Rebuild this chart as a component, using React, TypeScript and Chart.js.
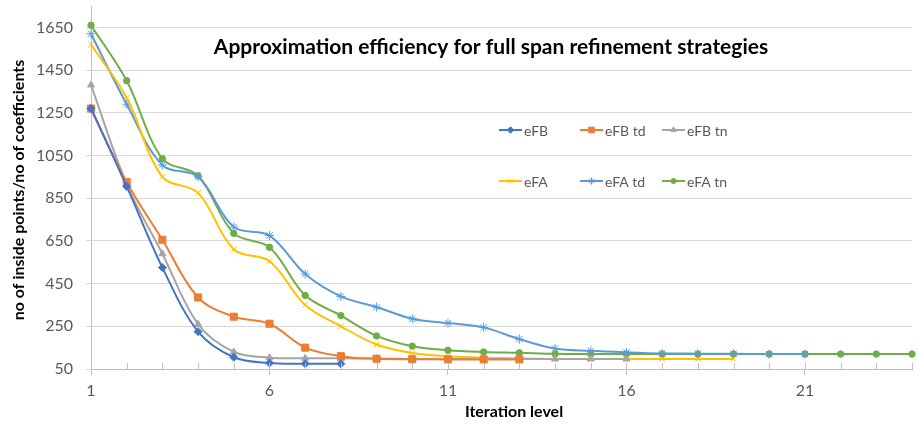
import React, { useEffect, useRef } from "react";
import { Chart, registerables, PointElement } from "chart.js";

Chart.register(...registerables);

const iterations = ["1","2","3","4","5","6","7","8","9","10","11","12","13","14","15","16","17","18","19","20","21","22","23","24"];
const yTicks = [50, 250, 450, 650, 850, 1050, 1250, 1450, 1650];

const eFB = [1270, 905, 525, 225, 105, 78, 75, 75];
const eFBtd = [1270, 925, 655, 385, 295, 262, 150, 110, 98, 96, 95, 95, 95];
const eFBtn = [1380, 915, 590, 260, 130, 103, 100, 100, 99, 97, 97, 97, 97, 97, 97, 97];
const eFA = [1570, 1320, 950, 875, 610, 555, 350, 250, 165, 125, 110, 103, 100, 97, 97, 97, 97, 97, 97];
const eFAtd = [1620, 1290, 1005, 950, 715, 675, 495, 390, 340, 285, 265, 245, 190, 146, 135, 128, 123, 122, 121, 120, 120];
const eFAtn = [1660, 1400, 1035, 955, 685, 620, 395, 300, 205, 157, 138, 130, 126, 121, 120, 120, 120, 120, 120, 120, 120, 120, 120, 120];

const TITLE = "Approximation efficiency for full span refinement strategies";
const X_TITLE = "Iteration level";
const Y_TITLE = "no of inside points/no of coefficients";
const FONT = "Lato, 'Open Sans', sans-serif";

type S = { label: string; data: number[]; color: string; style: string; r: number };
const series: S[] = [
  { label: "eFB", data: eFB, color: "#4472C4", style: "rectRot", r: 4 },
  { label: "eFB td", data: eFBtd, color: "#ED7D31", style: "rect", r: 5 },
  { label: "eFB tn", data: eFBtn, color: "#A5A5A5", style: "triangle", r: 4 },
  { label: "eFA", data: eFA, color: "#FFC000", style: "crossRot", r: 4 },
  { label: "eFA td", data: eFAtd, color: "#5B9BD5", style: "star", r: 4.5 },
  { label: "eFA tn", data: eFAtn, color: "#70AD47", style: "circle", r: 3.2 },
];

const overlayPlugin = {
  id: "overlay",
  afterDraw(chart: any) {
    const ctx = chart.ctx;
    const area = chart.chartArea;
    const xs = chart.scales.x;
    // tick marks inside the plot
    ctx.save();
    ctx.strokeStyle = "#bfbfbf";
    ctx.lineWidth = 1;
    iterations.forEach((_, i) => {
      const x = Math.round(xs.getPixelForValue(i)) + 0.5;
      ctx.beginPath();
      ctx.moveTo(x, area.bottom - 6);
      ctx.lineTo(x, area.bottom);
      ctx.stroke();
    });
    ctx.restore();

    // title
    ctx.save();
    ctx.font = `bold 21px ${FONT}`;
    ctx.fillStyle = "#000000";
    ctx.textAlign = "center";
    ctx.textBaseline = "middle";
    ctx.fillText(TITLE, area.left + 400, area.top + 41);
    ctx.restore();

    // x axis title
    ctx.save();
    ctx.font = `bold 16px ${FONT}`;
    ctx.fillStyle = "#000000";
    ctx.textAlign = "center";
    ctx.textBaseline = "middle";
    ctx.fillText(X_TITLE, area.left + 423, area.bottom + 43);
    ctx.restore();

    // y axis title
    ctx.save();
    ctx.font = `bold 16px ${FONT}`;
    ctx.fillStyle = "#000000";
    ctx.textAlign = "center";
    ctx.textBaseline = "middle";
    ctx.translate(19, 190);
    ctx.rotate(-Math.PI / 2);
    ctx.fillText(Y_TITLE, 0, 0);
    ctx.restore();

    // legend
    const cols = [408, 489, 571];
    const rows = [124, 175];
    ctx.save();
    series.forEach((s, i) => {
      const x = area.left + cols[i % 3];
      const y = area.top + rows[Math.floor(i / 3)];
      ctx.strokeStyle = s.color;
      ctx.lineWidth = 2;
      ctx.beginPath();
      ctx.moveTo(x, y);
      ctx.lineTo(x + 23, y);
      ctx.stroke();
      const p: any = new PointElement({} as any);
      p.x = x + 11.5;
      p.y = y;
      p.options = {
        pointStyle: s.style,
        radius: s.r * 0.8,
        rotation: 0,
        borderWidth: 1,
        borderColor: s.color,
        backgroundColor: s.color,
      };
      p.draw(ctx, area);
      ctx.font = `14px ${FONT}`;
      ctx.fillStyle = "#595959";
      ctx.textAlign = "left";
      ctx.textBaseline = "middle";
      ctx.fillText(s.label, x + 25, y + 1);
    });
    ctx.restore();
  },
};

export default function App() {
  const ref = useRef<HTMLCanvasElement | null>(null);
  useEffect(() => {
    if (!ref.current) return;
    const chart = new Chart(ref.current, {
      type: "line",
      data: {
        labels: iterations,
        datasets: series.map((s) => ({
          label: s.label,
          data: s.data,
          borderColor: s.color,
          backgroundColor: s.color,
          borderWidth: 2,
          tension: 0.35,
          pointStyle: s.style as any,
          pointRadius: s.r,
          pointBorderWidth: 1,
          pointBorderColor: s.color,
          pointBackgroundColor: s.color,
          fill: false,
        })),
      },
      options: {
        responsive: false,
        animation: false,
        devicePixelRatio: 1,
        layout: { padding: { top: 4, right: 5, left: 0, bottom: 0 } },
        plugins: {
          legend: { display: false },
          tooltip: { enabled: false },
          title: { display: false },
        },
        scales: {
          x: {
            type: "category",
            offset: false,
            border: { display: true, color: "#bfbfbf", width: 1 },
            grid: {
              display: true,
              drawOnChartArea: false,
              drawTicks: true,
              tickLength: 6,
              color: (c: any) => (c.index % 5 === 0 ? "#bfbfbf" : "rgba(0,0,0,0)"),
            },
            ticks: {
              autoSkip: false,
              maxRotation: 0,
              padding: 6,
              color: "#595959",
              font: { family: FONT, size: 16 },
              callback: (_v: any, i: number) => (i % 5 === 0 ? iterations[i] : ""),
            },
            title: { display: false },
            afterFit: (scale: any) => {
              scale.height = 55;
              scale.paddingLeft = 0;
              scale.paddingRight = 0;
            },
          },
          y: {
            type: "linear",
            min: 50,
            max: 1750,
            border: { display: true, color: "#bfbfbf", width: 1 },
            grid: { color: "#d9d9d9", tickLength: 5, drawTicks: true },
            afterBuildTicks: (scale: any) => {
              scale.ticks = yTicks.map((v) => ({ value: v }));
            },
            ticks: {
              padding: 13,
              color: "#595959",
              font: { family: FONT, size: 16 },
              callback: (v: any) => String(v),
            },
            title: { display: false },
            afterFit: (scale: any) => {
              scale.width = 91;
              scale.paddingTop = 0;
              scale.paddingBottom = 0;
            },
          },
        },
      },
      plugins: [overlayPlugin],
    });
    return () => chart.destroy();
  }, []);
  return (
    <div style={{ position: "fixed", left: 0, top: 0, width: 918, height: 424, background: "#fff" }}>
      <canvas ref={ref} width={918} height={424} style={{ width: 918, height: 424 }} />
    </div>
  );
}
